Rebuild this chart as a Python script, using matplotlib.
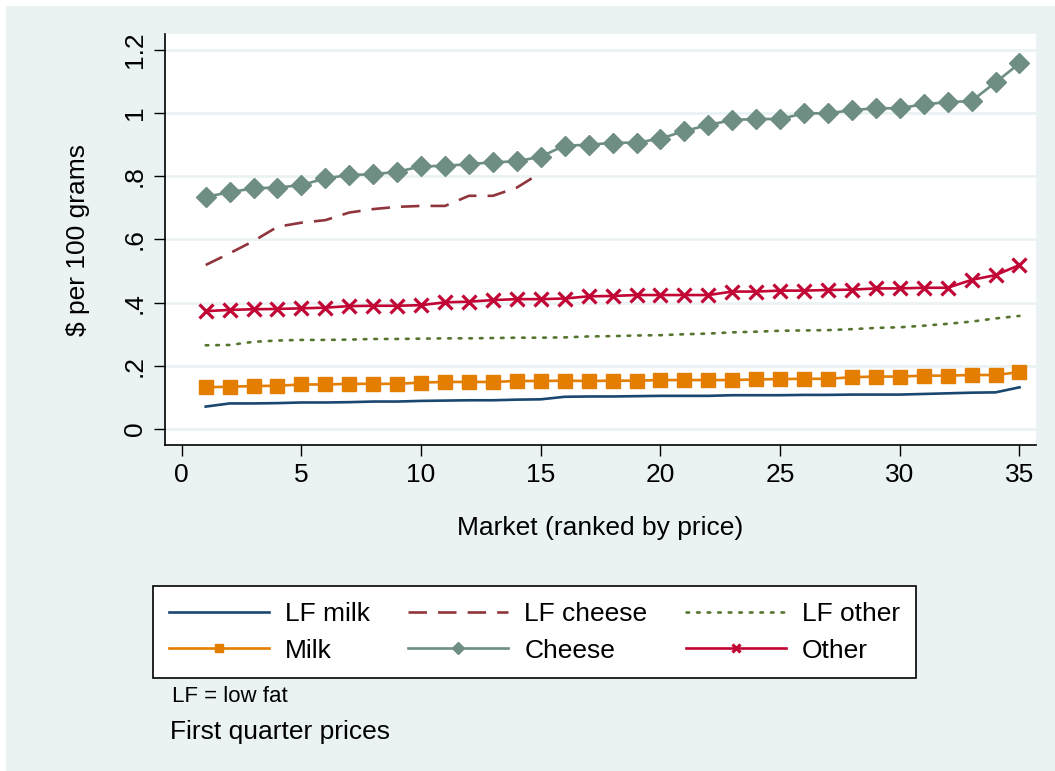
import matplotlib
matplotlib.use("Agg")
import matplotlib.pyplot as plt

plt.rcParams['font.family'] = ['Liberation Sans', 'DejaVu Sans']

# market rank
market = list(range(1, 36))

lf_milk = [0.071, 0.081, 0.081, 0.082, 0.084, 0.084, 0.085, 0.087, 0.087, 0.089,
           0.090, 0.091, 0.091, 0.093, 0.094, 0.102, 0.103, 0.103, 0.104, 0.105,
           0.105, 0.105, 0.107, 0.107, 0.107, 0.108, 0.108, 0.109, 0.109, 0.109,
           0.111, 0.113, 0.115, 0.116, 0.132]
lf_cheese = [0.519, 0.556, 0.595, 0.640, 0.653, 0.661, 0.685, 0.696, 0.703, 0.706,
             0.706, 0.738, 0.738, 0.764, 0.811]
lf_other = [0.265, 0.266, 0.276, 0.280, 0.282, 0.282, 0.283, 0.285, 0.285, 0.286,
            0.287, 0.287, 0.288, 0.289, 0.289, 0.290, 0.293, 0.294, 0.296, 0.297,
            0.300, 0.302, 0.306, 0.308, 0.311, 0.312, 0.313, 0.316, 0.320, 0.322,
            0.327, 0.333, 0.340, 0.350, 0.358]
milk = [0.132, 0.134, 0.136, 0.137, 0.141, 0.141, 0.143, 0.143, 0.143, 0.147,
        0.149, 0.149, 0.149, 0.152, 0.152, 0.153, 0.152, 0.153, 0.153, 0.155,
        0.155, 0.155, 0.155, 0.157, 0.158, 0.159, 0.159, 0.164, 0.166, 0.166,
        0.169, 0.169, 0.171, 0.171, 0.180]
cheese = [0.735, 0.749, 0.762, 0.764, 0.772, 0.793, 0.804, 0.806, 0.814, 0.831,
          0.833, 0.838, 0.844, 0.847, 0.862, 0.897, 0.899, 0.906, 0.906, 0.919,
          0.943, 0.962, 0.978, 0.981, 0.981, 0.999, 0.999, 1.009, 1.015, 1.015,
          1.028, 1.034, 1.038, 1.097, 1.157]
other = [0.373, 0.377, 0.379, 0.380, 0.382, 0.384, 0.389, 0.390, 0.390, 0.392,
         0.401, 0.403, 0.408, 0.411, 0.411, 0.413, 0.420, 0.421, 0.424, 0.424,
         0.424, 0.424, 0.435, 0.435, 0.438, 0.438, 0.440, 0.441, 0.445, 0.445,
         0.447, 0.447, 0.472, 0.487, 0.519]

y_ticks = [0, 0.2, 0.4, 0.6, 0.8, 1.0, 1.2]
y_tick_labels = ["0", ".2", ".4", ".6", ".8", "1", "1.2"]
x_ticks = [0, 5, 10, 15, 20, 25, 30, 35]

bg = "#eaf2f3"
lw = 1.9

fig = plt.figure(figsize=(10.55, 7.71), dpi=100)
fig.patch.set_facecolor("white")
# light outer region with a thin white margin
fig.patches.append(plt.Rectangle((0.006, 0.0), 0.994, 0.992, transform=fig.transFigure,
                                 facecolor=bg, edgecolor="none", zorder=-10))

ax = fig.add_axes([0.1564, 0.4228, 0.8256, 0.5331])
ax.set_facecolor("white")

l1, = ax.plot(market, lf_milk, color="#1a476f", lw=lw)
l2, = ax.plot(market[:len(lf_cheese)], lf_cheese, color="#90353b", lw=lw,
              linestyle=(0, (7, 4.2)))
l3, = ax.plot(market, lf_other, color="#55752f", lw=lw, linestyle=(0, (1, 3)),
              dash_capstyle="round")
l4, = ax.plot(market, milk, color="#e37e00", lw=lw, marker="s", markersize=9.5)
l5, = ax.plot(market, cheese, color="#6e8e84", lw=lw, marker="D", markersize=10)
l6, = ax.plot(market, other, color="#c10534", lw=lw, marker="x", markersize=10,
              markeredgewidth=2.3)

ax.set_xlim(-0.70, 35.69)
ax.set_ylim(-0.0506, 1.25)
ax.set_xticks(x_ticks)
ax.set_yticks(y_ticks)
ax.set_yticklabels(y_tick_labels, rotation=90, va="center")
ax.tick_params(axis="both", labelsize=19, length=8, width=1, color="black", pad=5)
ax.grid(axis="y", color=bg, lw=2)
ax.set_axisbelow(True)
for s in ["top", "right"]:
    ax.spines[s].set_visible(False)
for s in ["left", "bottom"]:
    ax.spines[s].set_linewidth(1.2)

ax.set_ylabel(r"\$ per 100 grams", fontsize=19, labelpad=24)
ax.set_xlabel("Market (ranked by price)", fontsize=19, labelpad=21)

handles = [l1, l4, l2, l5, l3, l6]
labels = ["LF milk", "Milk", "LF cheese", "Cheese", "LF other", "Other"]
leg = fig.legend(handles, labels, ncol=3, loc="upper left",
                 bbox_to_anchor=(0.145, 1 - 586 / 771), borderaxespad=0,
                 fontsize=19, frameon=True, fancybox=False, edgecolor="black",
                 framealpha=1, handlelength=3.8, handletextpad=0.6,
                 columnspacing=1.45, labelspacing=0.48, borderpad=0.6,
                 markerscale=0.6)
leg.get_frame().set_linewidth(1.2)
leg.get_frame().set_facecolor("white")

fig.text(0.163, 0.089, "LF = low fat", fontsize=16)
fig.text(0.161, 0.042, "First quarter prices", fontsize=19)

fig.savefig("out.png", dpi=100)
